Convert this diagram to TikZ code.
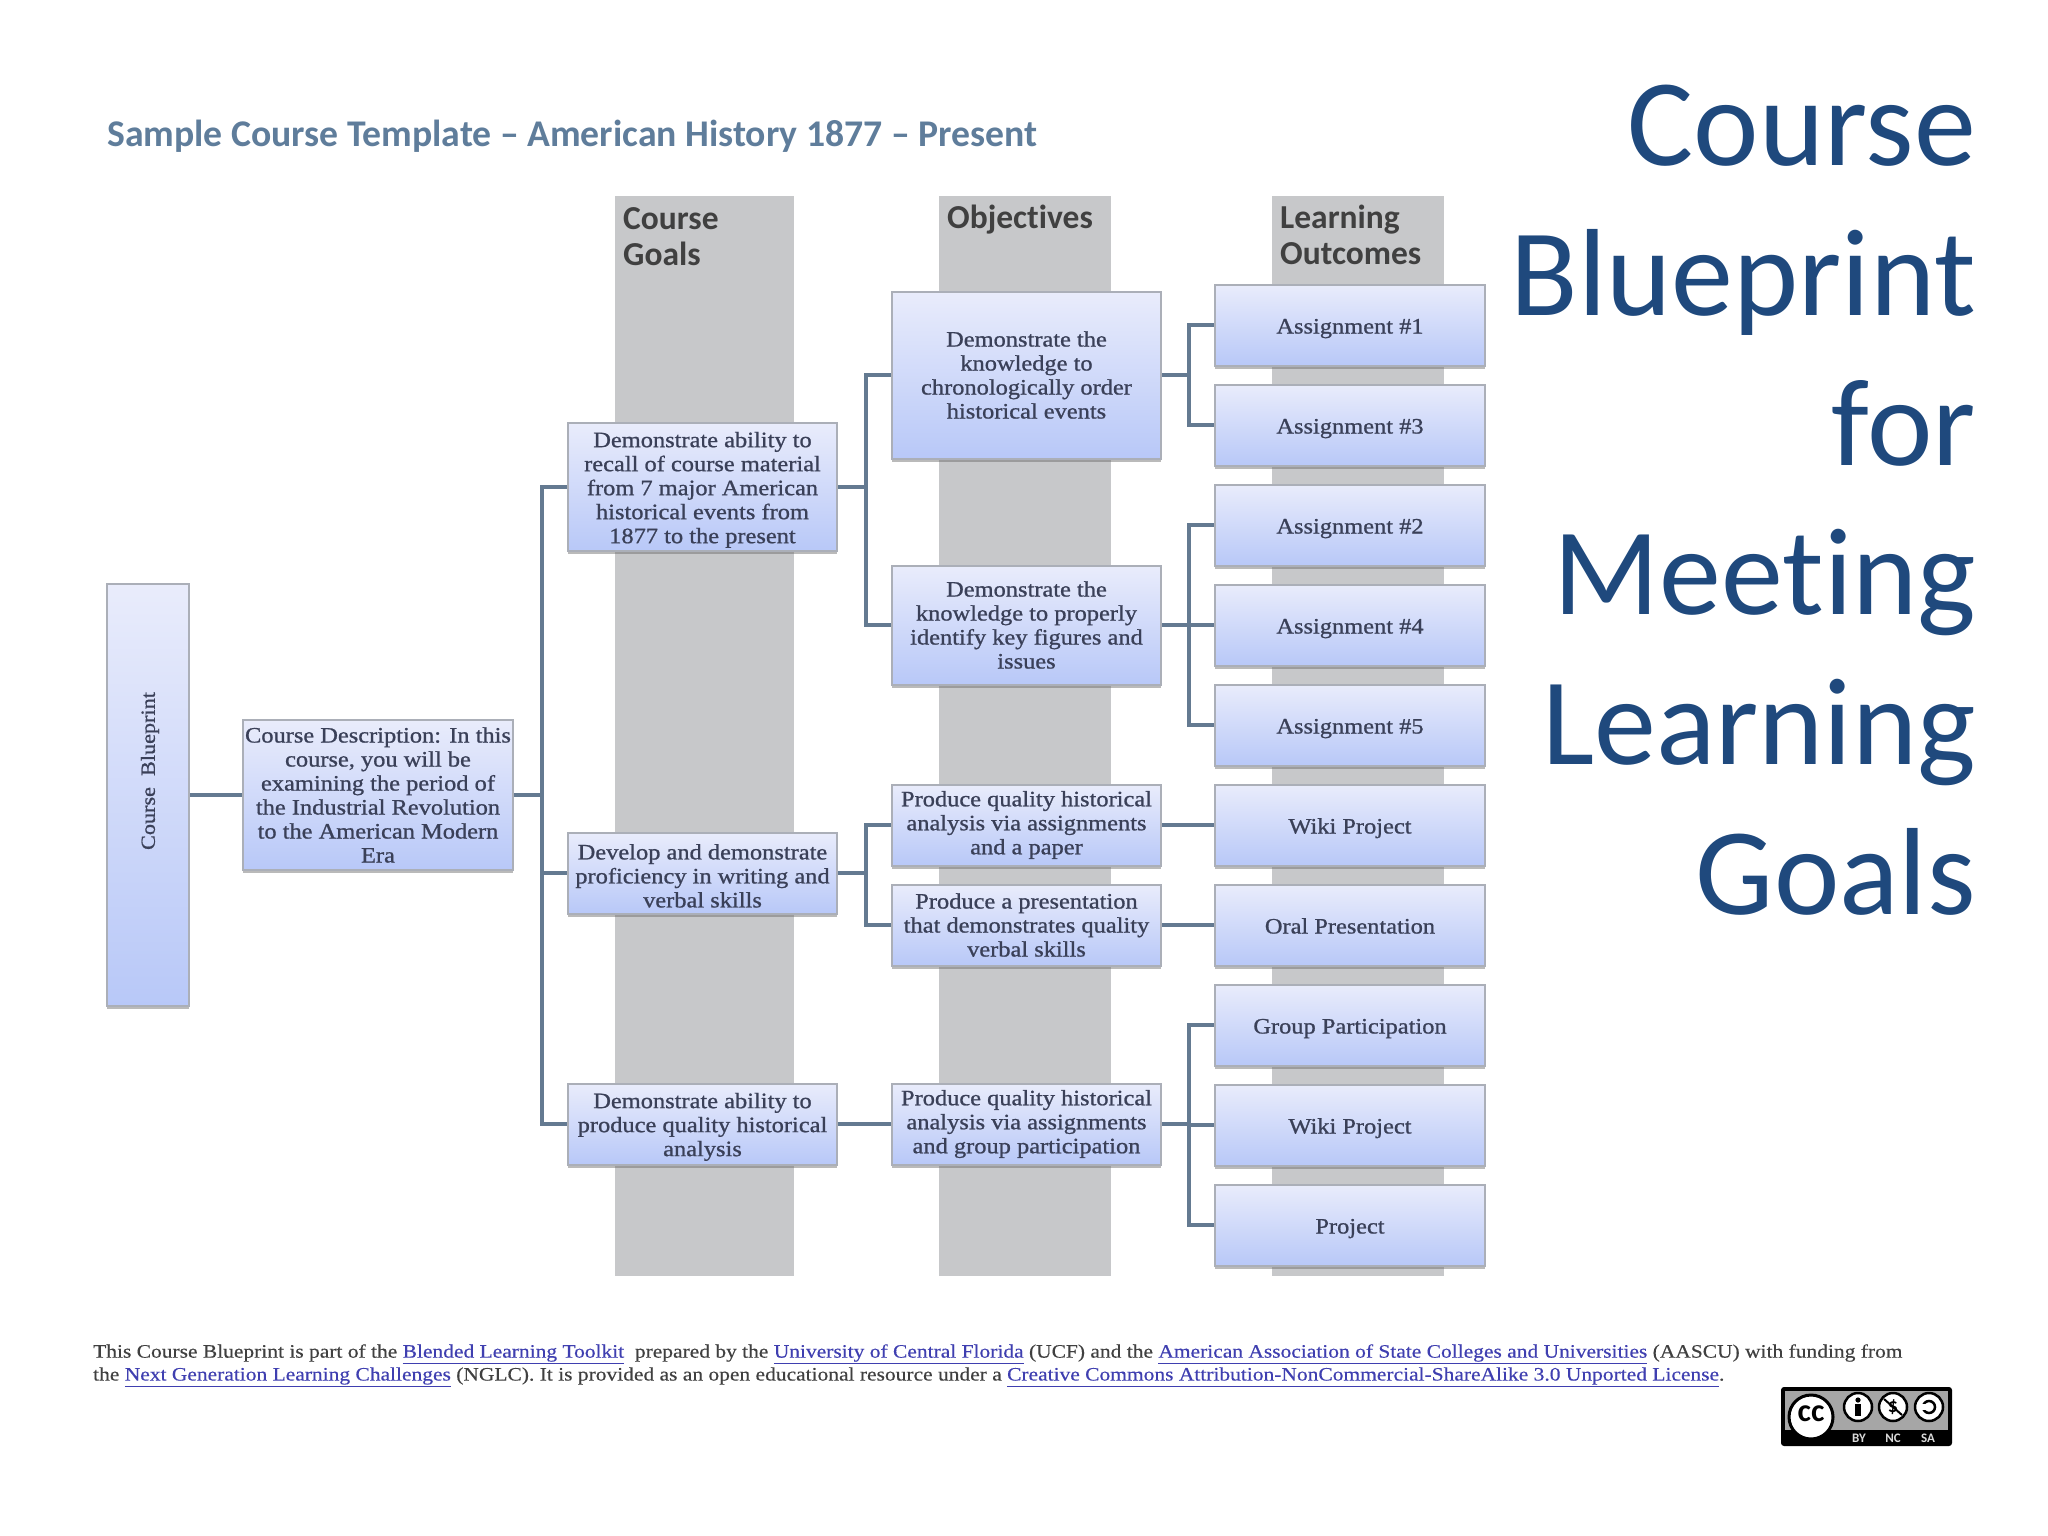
\documentclass[tikz,border=0pt]{standalone}
\usepackage{fontspec}
\usepackage{xcolor}
\usetikzlibrary{shadows}
\setmainfont{Liberation Serif}
\newfontfamily\calfont[Ligatures=NoCommon]{Carlito}
\newfontfamily\boxfont[FakeBold=0.9,FakeStretch=1.11]{Liberation Serif}
\newfontfamily\footfont[FakeBold=0.4,FakeStretch=1.13]{Liberation Serif}
\definecolor{bandgray}{HTML}{C7C8CA}
\definecolor{linkline}{HTML}{647A91}
\definecolor{boxtext}{HTML}{3A4058}
\definecolor{boxtop}{HTML}{E9ECFB}
\definecolor{boxbottom}{HTML}{B8C8F8}
\definecolor{boxedge}{HTML}{ABAFB8}
\definecolor{titleblue}{HTML}{1F497D}
\definecolor{subblue}{HTML}{5F7D9B}
\definecolor{urlblue}{HTML}{3F3FB0}
\newcommand{\lnk}[1]{\textcolor{urlblue}{\underline{#1}}}
\newcommand{\dropline}{\rule{0pt}{21pt}}
\tikzset{
    band/.style={fill=bandgray, inner sep=0pt, minimum height=1080pt},
    head/.style={font=\calfont\bfseries\fontsize{33.5}{36}\selectfont, text=black!75, align=left, anchor=west, inner sep=0pt},
    bluebox/.style={draw=boxedge, line width=2pt, top color=boxtop, bottom color=boxbottom,
        drop shadow={shadow xshift=0pt, shadow yshift=-3pt, fill=black!60, opacity=0.45},
        font=\boxfont\fontsize{22}{24}\selectfont, text=boxtext, align=center, inner sep=0pt, minimum width=269pt},
    outcome/.style={bluebox, minimum width=270pt, minimum height=81pt, node distance=100pt, text height=23pt, text depth=6pt},
    link/.style={draw=linkline, line width=3.5pt},
    ccsign/.style={draw=black, line width=2.5pt, fill=white},
    cctag/.style={font=\calfont\bfseries\fontsize{13}{13}\selectfont, text=white!85!black, inner sep=0pt}
}
\begin{document}
\begin{tikzpicture}[x=1pt, y=-1pt]
    \useasboundingbox (0,0) rectangle (2048,1536);

    \node[font=\calfont\bfseries\fontsize{37.7}{38}\selectfont, text=subblue, anchor=west, inner sep=0pt] (subtitle) at (107,136)
        {Sample Course Template – American History 1877 – Present};
    \node[font=\calfont\fontsize{124}{149.7}\selectfont, text=titleblue, align=right, anchor=north east, inner sep=0pt] (title) at (1976,85)
        {Course\\Blueprint\\for\\Meeting\\Learning\\Goals};

    \node[band, minimum width=179pt] (bandgoals) at (704.5,736) {};
    \node[band, minimum width=172pt] (bandobj) at (1025,736) {};
    \node[band, minimum width=172pt] (bandout) at (1358,736) {};

    \node[head] (headgoals) at (623,237) {Course\\Goals};
    \node[head] (headobj) at (947,220) {Objectives};
    \node[head] (headout) at (1280,235) {Learning\\Outcomes};

    \node[bluebox, minimum width=82pt, minimum height=422pt] (blueprint) at (148,795) {};
    \node[font=\boxfont\fontsize{20}{24}\selectfont, text=boxtext, rotate=90, inner sep=0pt] (blueprintlabel) at (150,771) {Course\ \ Blueprint};
    \node[bluebox, minimum width=270pt, minimum height=150pt] (desc) at (378,795)
        {Course Description: In this\\course, you will be\\examining the period of\\the Industrial Revolution\\to the American Modern\\Era};

    \node[bluebox, minimum height=128pt] (goal1) at (702.5,487)
        {\dropline Demonstrate ability to\\recall of course material\\from 7 major American\\historical events from\\1877 to the present};
    \node[bluebox, minimum height=81pt] (goal2) at (702.5,873)
        {\dropline Develop and demonstrate\\proficiency in writing and\\verbal skills};
    \node[bluebox, minimum height=81pt] (goal3) at (702.5,1124)
        {\dropline Demonstrate ability to\\produce quality historical\\analysis};

    \node[bluebox, minimum height=167pt] (obj1) at (1026.5,375)
        {Demonstrate the\\knowledge to\\chronologically order\\historical events};
    \node[bluebox, minimum height=119pt] (obj2) at (1026.5,625)
        {Demonstrate the\\knowledge to properly\\identify key figures and\\issues};
    \node[bluebox, minimum height=81pt] (obj3) at (1026.5,825)
        {Produce quality historical\\analysis via assignments\\and a paper};
    \node[bluebox, minimum height=81pt] (obj4) at (1026.5,925)
        {Produce a presentation\\that demonstrates quality\\verbal skills};
    \node[bluebox, minimum height=81pt] (obj5) at (1026.5,1124)
        {Produce quality historical\\analysis via assignments\\and group participation};

    \node[outcome] (out1) at (1350,325) {Assignment \#1};
    \node[outcome, below of=out1] (out3) {Assignment \#3};
    \node[outcome, below of=out3] (out2) {Assignment \#2};
    \node[outcome, below of=out2] (out4) {Assignment \#4};
    \node[outcome, below of=out4] (out5) {Assignment \#5};
    \node[outcome, below of=out5] (wiki1) {Wiki Project};
    \node[outcome, below of=wiki1] (oral) {Oral Presentation};
    \node[outcome, below of=oral] (group) {Group Participation};
    \node[outcome, below of=group] (wiki2) {Wiki Project};
    \node[outcome, below of=wiki2] (project) {Project};

    \draw[link] (blueprint.east) -- (desc.west);
    \foreach \t in {goal1,goal2,goal3}
        \draw[link] (desc.east) -- ++(28,0) |- (\t.west);
    \foreach \t in {obj1,obj2}
        \draw[link] (goal1.east) -- ++(28,0) |- (\t.west);
    \foreach \t in {obj3,obj4}
        \draw[link] (goal2.east) -- ++(28,0) |- (\t.west);
    \draw[link] (goal3.east) -- (obj5.west);
    \foreach \t in {out1,out3}
        \draw[link] (obj1.east) -- ++(27,0) |- (\t.west);
    \foreach \t in {out2,out4,out5}
        \draw[link] (obj2.east) -- ++(27,0) |- (\t.west);
    \draw[link] (obj3.east) -- (wiki1.west);
    \draw[link] (obj4.east) -- (oral.west);
    \foreach \t in {group,wiki2,project}
        \draw[link] (obj5.east) -- ++(27,0) |- (\t.west);

    \node[font=\footfont\fontsize{19}{24}\selectfont, text=black!75, anchor=west, inner sep=0pt] (foot1) at (93,1354)
        {This Course Blueprint is part of the \lnk{Blended Learning Toolkit}\ \ prepared by the \lnk{University of Central Florida} (UCF) and the \lnk{American Association of State Colleges and Universities} (AASCU) with funding from};
    \node[font=\footfont\fontsize{19}{24}\selectfont, text=black!75, anchor=west, inner sep=0pt] (foot2) at (93,1377)
        {the \lnk{Next Generation Learning Challenges} (NGLC). It is provided as an open educational resource under a \lnk{Creative Commons Attribution-NonCommercial-ShareAlike 3.0 Unported License}.};

    \fill[black, rounded corners=3pt] (1781,1387) rectangle (1952,1446);
    \fill[black!35] (1785,1391) rectangle (1948,1430);
    \draw[ccsign, line width=3pt] (1811,1417) circle (22pt);
    \node[font=\calfont\bfseries\fontsize{32}{32}\selectfont, inner sep=0pt] (cclogo) at (1811,1414) {cc};
    \draw[ccsign] (1858,1407) circle (14pt);
    \draw[ccsign] (1893,1407) circle (14pt);
    \draw[ccsign] (1929,1407) circle (14pt);
    \fill[black] (1858,1400) circle (2.6pt);
    \fill[black] (1855,1404) rectangle (1861,1416);
    \node[font=\calfont\bfseries\fontsize{20}{20}\selectfont, inner sep=0pt] (ccnc) at (1893,1407) {\$};
    \draw[black, line width=2pt] (1884,1399) -- (1902,1415);
    \draw[black, line width=2.5pt] (1929,1407) circle (6pt);
    \fill[white] (1921,1404) rectangle (1926,1410);
    \node[cctag] (ccby) at (1859,1438) {BY};
    \node[cctag] (ccnd) at (1893,1438) {NC};
    \node[cctag] (ccsa) at (1928,1438) {SA};
\end{tikzpicture}
\end{document}
